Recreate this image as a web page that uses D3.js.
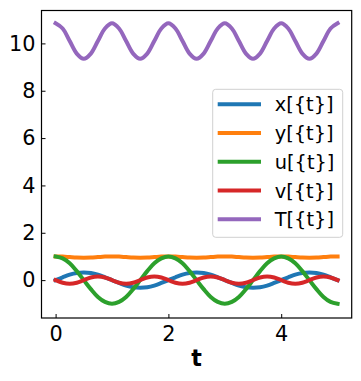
<!DOCTYPE html>
<html>
<head>
<meta charset="utf-8">
<script src="https://cdn.jsdelivr.net/npm/d3@7"></script>
<style>
  body { margin: 0; background: #fff; }
  svg { display: block; font-family: "DejaVu Sans", sans-serif; }
</style>
</head>
<body>
<div id="chart"></div>
<script>
// time samples
var tVals = [0,0.125,0.25,0.375,0.5,0.625,0.75,0.875,1,1.125,1.25,1.375,1.5,1.625,1.75,1.875,
  2,2.125,2.25,2.375,2.5,2.625,2.75,2.875,3,3.125,3.25,3.375,3.5,3.625,3.75,3.875,
  4,4.125,4.25,4.375,4.5,4.625,4.75,4.875,5];

var xVals = [0,0.12,0.23,0.30,0.32,0.30,0.23,0.12,0,-0.12,-0.23,-0.30,-0.32,-0.30,-0.23,-0.12,
  0,0.12,0.23,0.30,0.32,0.30,0.23,0.12,0,-0.12,-0.23,-0.30,-0.32,-0.30,-0.23,-0.12,
  0,0.12,0.23,0.30,0.32,0.30,0.23,0.12,0];

var yVals = [1,0.993,0.973,0.954,0.947,0.954,0.973,0.993,1,0.993,0.973,0.954,0.947,0.954,0.973,0.993,
  1,0.993,0.973,0.954,0.947,0.954,0.973,0.993,1,0.993,0.973,0.954,0.947,0.954,0.973,0.993,
  1,0.993,0.973,0.954,0.947,0.954,0.973,0.993,1];

var uVals = [1,0.92,0.71,0.38,0,-0.38,-0.71,-0.92,-1,-0.92,-0.71,-0.38,0,0.38,0.71,0.92,
  1,0.92,0.71,0.38,0,-0.38,-0.71,-0.92,-1,-0.92,-0.71,-0.38,0,0.38,0.71,0.92,
  1,0.92,0.71,0.38,0,-0.38,-0.71,-0.92,-1];

var vVals = [0,-0.11,-0.15,-0.11,0,0.11,0.15,0.11,0,-0.11,-0.15,-0.11,0,0.11,0.15,0.11,
  0,-0.11,-0.15,-0.11,0,0.11,0.15,0.11,0,-0.11,-0.15,-0.11,0,0.11,0.15,0.11,
  0,-0.11,-0.15,-0.11,0,0.11,0.15,0.11,0];

var TVals = [10.85,10.63,10.1,9.57,9.35,9.57,10.1,10.63,10.85,10.63,10.1,9.57,9.35,9.57,10.1,10.63,
  10.85,10.63,10.1,9.57,9.35,9.57,10.1,10.63,10.85,10.63,10.1,9.57,9.35,9.57,10.1,10.63,
  10.85,10.63,10.1,9.57,9.35,9.57,10.1,10.63,10.85];

var seriesNames = ["x[{t}]","y[{t}]","u[{t}]","v[{t}]","T[{t}]"];
var seriesColors = ["#1f77b4","#ff7f0e","#2ca02c","#d62728","#9467bd"];
var xTicks = [0,2,4];
var yTicks = [0,2,4,6,8,10];

var allSeries = [xVals, yVals, uVals, vVals, TVals];

var width = 361, height = 381;
var margin = { top: 10.5, right: 9.3, bottom: 63, left: 41.5 };
var w = width - margin.left - margin.right,
    h = height - margin.top - margin.bottom;

var svg = d3.select("#chart").append("svg")
  .attr("width", width).attr("height", height);

var g = svg.append("g")
  .attr("transform", "translate(" + margin.left + "," + margin.top + ")");

var x = d3.scaleLinear().domain([-0.25, 5.25]).range([0, w]);
var y = d3.scaleLinear().domain([-1.6, 11.39]).range([h, 0]);

var dataReady = seriesNames.map(function(name, i) {
  return { name: name, color: seriesColors[i],
    values: tVals.map(function(t, j) { return { t: t, v: allSeries[i][j] }; }) };
});

// lines
var line = d3.line()
  .x(function(d) { return x(d.t); })
  .y(function(d) { return y(d.v); })
  .curve(d3.curveCatmullRom);

g.selectAll("myLines")
  .data(dataReady)
  .enter()
  .append("path")
    .attr("d", function(d) { return line(d.values); })
    .attr("stroke", function(d) { return d.color; })
    .style("stroke-width", 4)
    .style("stroke-linecap", "square")
    .style("fill", "none");

// axes (ticks pointing inward)
var xAxis = g.append("g")
  .attr("transform", "translate(0," + h + ")")
  .call(d3.axisBottom(x).tickValues(xTicks).tickFormat(d3.format("d"))
    .tickSizeInner(-4).tickSizeOuter(0).tickPadding(8));
var yAxis = g.append("g")
  .call(d3.axisLeft(y).tickValues(yTicks).tickFormat(d3.format("d"))
    .tickSizeInner(-4).tickSizeOuter(0).tickPadding(6));

[xAxis, yAxis].forEach(function(a) {
  a.select(".domain").remove();
  a.selectAll("line").attr("stroke", "#000").attr("stroke-width", 1);
  a.selectAll("text").attr("fill", "#000")
    .style("font-size", "20.8px").style("font-family", "DejaVu Sans");
});

// frame
g.append("rect")
  .attr("width", w).attr("height", h)
  .attr("fill", "none").attr("stroke", "#000").attr("stroke-width", 1.2);

// x label
svg.append("text")
  .attr("x", margin.left + w / 2)
  .attr("y", 365.5)
  .attr("text-anchor", "middle")
  .style("font-size", "22.2px")
  .style("font-weight", "bold")
  .text("t");

// legend
var lg = svg.append("g").attr("transform", "translate(212.7,89.3)");
lg.append("rect")
  .attr("width", 130).attr("height", 148)
  .attr("rx", 3).attr("ry", 3)
  .attr("fill", "#fff").attr("fill-opacity", 0.8)
  .attr("stroke", "#d0d0d0").attr("stroke-width", 1);

var items = lg.selectAll("myLegend")
  .data(dataReady)
  .enter()
  .append("g")
    .attr("transform", function(d, i) { return "translate(0," + (15 + i * 28.75) + ")"; });
items.append("line")
  .attr("x1", 5).attr("x2", 48.3)
  .attr("stroke", function(d) { return d.color; })
  .attr("stroke-width", 4);
items.append("text")
  .attr("x", 62)
  .attr("y", 7)
  .style("font-size", "19.4px")
  .text(function(d) { return d.name; });
</script>
</body>
</html>
